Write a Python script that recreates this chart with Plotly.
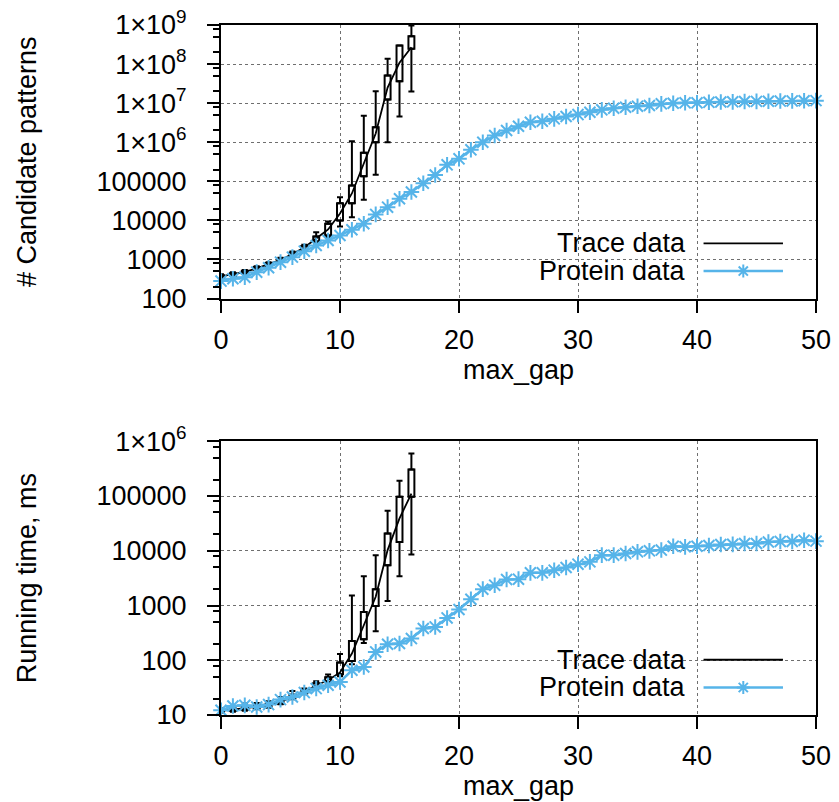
import plotly.graph_objects as go
from plotly.subplots import make_subplots

# ---------------- data ----------------
gap_protein = list(range(0, 51))
gap_trace = list(range(0, 17))

cand_protein = [279, 321, 352, 473, 614, 853, 1146, 1630, 2280, 3060, 4110, 5750, 8190,
                14200, 21800, 35700, 53200, 89300, 145000, 264000, 376000, 639000, 1.0e6,
                1.48e6, 1.99e6, 2.56e6, 3.25e6, 3.45e6, 3.96e6, 4.54e6, 5.1e6, 5.85e6, 6.74e6,
                7.41e6, 7.86e6, 8.34e6, 8.69e6, 9.6e6, 9.94e6, 1.02e7, 1.02e7, 1.05e7, 1.07e7,
                1.08e7, 1.10e7, 1.11e7, 1.12e7, 1.13e7, 1.14e7, 1.15e7, 1.16e7]

cand_trace_med = [367, 413, 479, 589, 745, 971, 1380, 2030, 3440, 5850, 15000, 48800,
                  285000, 1.67e6, 2.5e7, 1.09e8, 2.69e8]
cand_trace_q1 = [338, 380, 441, 542, 685, 893, 1270, 1800, 2890, 4110, 9900, 27500,
                 135000, 1.0e6, 1.24e7, 3.63e7, 2.45e8]
cand_trace_q3 = [396, 446, 517, 636, 805, 1049, 1490, 2210, 3880, 8190, 27500, 78100,
                 536000, 2.42e6, 5.08e7, 2.97e8, 5.14e8]
cand_trace_lo = [330, 370, 430, 530, 670, 870, 1240, 1700, 2560, 3650, 6980, 12100,
                 33700, 147000, 1.0e6, 4.54e6, 1.98e7]
cand_trace_hi = [420, 470, 540, 670, 850, 1110, 1600, 2380, 4990, 9370, 39200, 1.06e6,
                 4.73e6, 2.02e7, 1.36e8, 2.97e8, 9.66e8]

time_protein = [12.2, 14.6, 15.0, 14.0, 15.5, 19.1, 21.3, 25.7, 30.4, 34.9, 40.1, 65.6, 75.5,
                142, 196, 202, 249, 380, 406, 593, 845, 1300, 1990, 2350, 2990, 3030, 3950,
                3950, 4420, 4950, 5690, 6270, 8310, 8310, 8930, 9560, 9960, 10300, 12100,
                11800, 12100, 12500, 13000, 13100, 13600, 13600, 14400, 14800, 14800, 15600,
                15000]

time_trace_med = [11.9, 12.6, 13.1, 14.0, 15.0, 17.3, 21.3, 26.3, 34.9, 43, 60, 133, 436,
                  1440, 10300, 39000, 111000]
time_trace_q1 = [11.5, 12.0, 12.5, 13.2, 14.1, 16.1, 20.2, 24.9, 32, 39.6, 55.5, 97, 242,
                 984, 5460, 14500, 96700]
time_trace_q3 = [12.4, 13.2, 14.1, 15.0, 16.0, 18.6, 23.4, 28.3, 38, 48.9, 90.8, 225, 764,
                 1990, 20700, 96700, 306000]
time_trace_lo = [11.1, 11.5, 12.0, 12.7, 13.5, 15.7, 19.4, 23.9, 30, 36.4, 51, 84.5, 207,
                 339, 1210, 3430, 8560]
time_trace_hi = [13.2, 14.4, 16.3, 16.5, 17.8, 21.3, 27.5, 30.4, 41.3, 54.8, 130, 1520, 3430,
                 8310, 53600, 190000, 601000]

top_tickvals = [1e2, 1e3, 1e4, 1e5, 1e6, 1e7, 1e8, 1e9]
top_ticktext = ["100", "1000", "10000", "100000", "1×10<sup>6</sup>", "1×10<sup>7</sup>",
                "1×10<sup>8</sup>", "1×10<sup>9</sup>"]
bot_tickvals = [1e1, 1e2, 1e3, 1e4, 1e5, 1e6]
bot_ticktext = ["10", "100", "1000", "10000", "100000", "1×10<sup>6</sup>"]
x_tickvals = [0, 10, 20, 30, 40, 50]

series_names = ["Trace data", "Protein data"]

# ---------------- style ----------------
FONT = "Liberation Sans, Arial, Helvetica, sans-serif"
FS = 27
BLUE = "#56b4e9"
BLACK = "#000000"
GRID = "#6f6f6f"

fig = make_subplots(rows=2, cols=1, vertical_spacing=0.2066)


def add_panel(row, med, q1, q3, lo, hi, prot):
    # boxes (q1..q3)
    fig.add_trace(go.Bar(x=gap_trace, base=q1, y=[b - a for a, b in zip(q1, q3)],
                         width=0.5, marker=dict(color="rgba(0,0,0,0)",
                                                line=dict(color=BLACK, width=2)),
                         showlegend=False, hoverinfo="skip"), row=row, col=1)
    # upper whiskers
    fig.add_trace(go.Scatter(x=gap_trace, y=q3, mode="markers",
                             marker=dict(size=2, opacity=0),
                             error_y=dict(type="data", symmetric=False,
                                          array=[h - b for h, b in zip(hi, q3)],
                                          arrayminus=[0] * len(q3),
                                          color=BLACK, thickness=2, width=3),
                             showlegend=False, hoverinfo="skip"), row=row, col=1)
    # lower whiskers
    fig.add_trace(go.Scatter(x=gap_trace, y=q1, mode="markers",
                             marker=dict(size=2, opacity=0),
                             error_y=dict(type="data", symmetric=False,
                                          array=[0] * len(q1),
                                          arrayminus=[a - l for a, l in zip(q1, lo)],
                                          color=BLACK, thickness=2, width=3),
                             showlegend=False, hoverinfo="skip"), row=row, col=1)
    # median line
    fig.add_trace(go.Scatter(x=gap_trace, y=med, mode="lines", name=series_names[0],
                             line=dict(color=BLACK, width=1.8),
                             showlegend=False), row=row, col=1)
    # protein data
    fig.add_trace(go.Scatter(x=gap_protein, y=prot, mode="lines+markers", name=series_names[1],
                             line=dict(color=BLUE, width=2.5),
                             marker=dict(symbol="asterisk-open", size=13,
                                         line=dict(color=BLUE, width=2)),
                             cliponaxis=False, showlegend=False), row=row, col=1)


add_panel(1, cand_trace_med, cand_trace_q1, cand_trace_q3, cand_trace_lo, cand_trace_hi,
          cand_protein)
add_panel(2, time_trace_med, time_trace_q1, time_trace_q3, time_trace_lo, time_trace_hi,
          time_protein)

axis_common = dict(showline=True, linecolor=BLACK, linewidth=2, mirror=True,
                   ticks="outside", ticklen=12, tickwidth=2, tickcolor=BLACK,
                   showgrid=True, gridcolor=GRID, griddash="dot", gridwidth=1,
                   zeroline=False, ticklabeloverflow="allow",
                   tickfont=dict(family=FONT, size=FS, color=BLACK))

for r in (1, 2):
    fig.update_xaxes(range=[0, 50], tickmode="array", tickvals=x_tickvals,
                     ticklabelstandoff=4,
                     title=dict(text="max_gap", font=dict(family=FONT, size=FS, color=BLACK),
                                standoff=0),
                     row=r, col=1, **axis_common)


def minor_vals(lo_exp, hi_exp):
    vals = []
    for e in range(lo_exp, hi_exp):
        for m in (2, 5, 8):
            vals.append(m * 10 ** e)
    return vals


fig.update_yaxes(type="log", range=[2, 9], tickmode="array", tickvals=top_tickvals,
                 ticktext=top_ticktext, ticklabelstandoff=15,
                 minor=dict(tickmode="array", tickvals=minor_vals(2, 9), ticks="outside",
                            ticklen=6, tickwidth=2, tickcolor=BLACK, showgrid=False),
                 title=dict(text="# Candidate patterns",
                            font=dict(family=FONT, size=FS, color=BLACK), standoff=52),
                 row=1, col=1, **axis_common)
fig.update_yaxes(type="log", range=[1, 6], tickmode="array", tickvals=bot_tickvals,
                 ticktext=bot_ticktext, ticklabelstandoff=15,
                 minor=dict(tickmode="array", tickvals=minor_vals(1, 6), ticks="outside",
                            ticklen=6, tickwidth=2, tickcolor=BLACK, showgrid=False),
                 title=dict(text="Running time, ms",
                            font=dict(family=FONT, size=FS, color=BLACK), standoff=52),
                 row=2, col=1, **axis_common)

# domains
fig.update_layout(yaxis=dict(domain=[0.6036, 1.0]), yaxis2=dict(domain=[0.0, 0.3967]))

# ---------------- custom legends (gnuplot style: text left, sample right) ----------------
annotations = []
shapes = []
for xr, yr in (("x domain", "y domain"), ("x2 domain", "y2 domain")):
    for i, (name, yy) in enumerate(zip(series_names, (0.2018, 0.1005))):
        annotations.append(dict(text=name, xref=xr, yref=yr, x=0.7845, y=yy,
                                xanchor="right", yanchor="middle", showarrow=False,
                                font=dict(family=FONT, size=FS, color=BLACK)))
        shapes.append(dict(type="line", xref=xr, yref=yr, x0=0.811, x1=0.9445, y0=yy, y1=yy,
                           line=dict(color=BLACK if i == 0 else BLUE,
                                     width=1.8 if i == 0 else 2.5)))
    shapes.append(dict(type="path", xref=xr, yref=yr, xsizemode="pixel", ysizemode="pixel",
                       xanchor=0.8778, yanchor=0.1005,
                       path="M-6.5,0 L6.5,0 M0,-6.5 L0,6.5 M-4.6,-4.6 L4.6,4.6 M-4.6,4.6 L4.6,-4.6",
                       line=dict(color=BLUE, width=2)))

# the page body adds an 8 px offset, so the figure is 8 px smaller on each axis
fig.update_layout(
    width=831, height=794,
    margin=dict(l=213, r=23, t=17, b=87, autoexpand=False),
    paper_bgcolor="white", plot_bgcolor="white",
    font=dict(family=FONT, size=FS, color=BLACK),
    showlegend=False, barmode="overlay",
    annotations=annotations, shapes=shapes,
)

fig.write_html("out.html")
